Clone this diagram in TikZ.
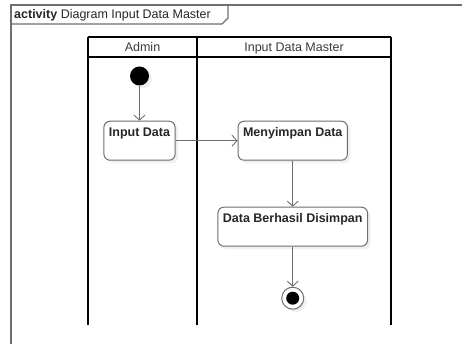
\documentclass[tikz,border=0pt]{standalone}
\usepackage{fontspec}
\setmainfont{Liberation Sans}
\usepackage{tikz}
\usetikzlibrary{arrows.meta, shadows, positioning}
\definecolor{linegray}{HTML}{6E6E6E}
\definecolor{textgray}{HTML}{3A3A3A}
\tikzstyle{action} = [rectangle, rounded corners=6pt, draw=linegray, line width=1pt, fill=white, text=black!85, font=\fontsize{12.5}{15}\selectfont\bfseries, inner xsep=5pt, inner ysep=3pt, text height=12pt, text depth=21pt, drop shadow={shadow xshift=3pt, shadow yshift=-3pt, opacity=0.12}]
\tikzstyle{arrow} = [line width=0.9pt, draw=linegray, -{Straight Barb[length=5pt,width=11pt]}]
\tikzstyle{lane} = [line width=1.8pt, black]
\tikzstyle{header} = [font=\fontsize{12.5}{15}\selectfont, text=textgray, anchor=base, inner sep=0pt]
\tikzstyle{start} = [circle, fill=black, minimum size=19pt, inner sep=0pt, drop shadow={shadow xshift=3pt, shadow yshift=-3pt, opacity=0.12}]
\tikzstyle{stop} = [circle, draw=linegray, fill=white, line width=1pt, minimum size=22pt, inner sep=0pt, drop shadow={shadow xshift=3pt, shadow yshift=-3pt, opacity=0.12}]

\begin{document}
\begin{tikzpicture}[x=1pt, y=-1pt]
\useasboundingbox (0,0) rectangle (462,344);

% frame and title tab
\draw[linegray, line width=1.2pt] (11,344) -- (11,5) -- (462,5);
\draw[linegray, line width=1.2pt] (11,24) -- (222,24) -- (228,18) -- (228,5);
\node[anchor=base west, inner sep=0pt, font=\fontsize{12.5}{15}\selectfont, text=black!85] (title) at (14,18.5) {\textbf{activity} Diagram Input Data Master};

% swimlanes
\draw[lane] (88,37) -- (391,37);
\draw[lane] (88,57) -- (391,57);
\draw[lane] (88,37) -- (88,325);
\draw[lane] (197,37) -- (197,325);
\draw[lane] (391,37) -- (391,325);
\node[header] (admin) at (142.5,51.5) {Admin};
\node[header] (master) at (294,51.5) {Input Data Master};

% activities
\node (start) [start] at (139.5,76) {};
\node (input) [action, below=35pt of start] {Input Data};
\node (simpan) [action, right=62pt of input] {Menyimpan Data};
\node (berhasil) [action, below=46pt of simpan] {Data Berhasil Disimpan};
\node (stop) [stop, below=40pt of berhasil] {};
\fill[black] (stop) circle (6.5pt);

\draw [arrow] (start) -- (input);
\draw [arrow] (input) -- (simpan);
\draw [arrow] (simpan) -- (berhasil);
\draw [arrow] (berhasil) -- (stop);

\end{tikzpicture}
\end{document}
